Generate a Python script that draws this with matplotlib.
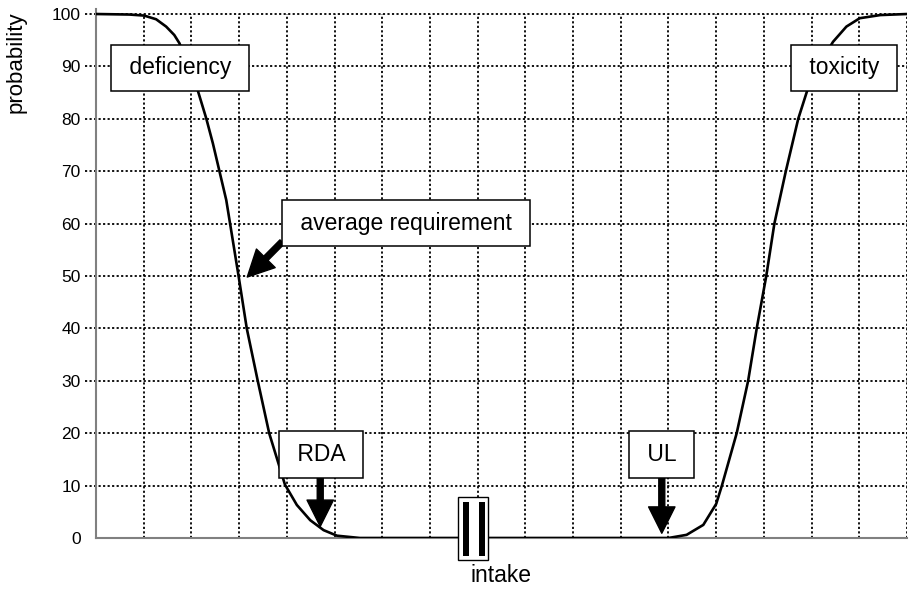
import numpy as np
import matplotlib.pyplot as plt
from matplotlib.patches import Rectangle

plt.rcParams['font.family'] = ['Liberation Sans', 'DejaVu Sans']

# curve (x in grid units, y in %)
intake = [0, 0.70, 1.01, 1.26, 1.47, 1.64, 1.75, 2.13, 2.31, 2.45, 2.59,
          2.73, 2.99, 3.16, 3.39, 3.63, 3.96, 4.21, 4.49, 4.77, 5.05,
          5.53, 12.0, 12.38, 12.73, 13.0, 13.12, 13.43, 13.67, 13.85, 14.05,
          14.22, 14.46, 14.72, 15.0, 15.45, 15.73, 16.01, 16.44, 17]
probability = [100, 99.9, 99.7, 99.0, 97.6, 96.0, 94.4, 85.5, 80.1, 75.3,
               69.9, 64.5, 49.9, 40.0, 30.0, 20.0, 10.2, 6.3, 3.4, 1.5,
               0.44, 0, 0, 0.6, 2.5, 6.5, 10.0, 20.0, 30.0, 40.0, 50.0, 60.0,
               70.0, 80.0, 88.0, 94.7, 97.6, 99.2, 99.8, 100]

yticks = list(range(0, 101, 10))
xgrid = list(range(1, 18))

# labels: (text, box centre x, box centre y)
boxes = [("deficiency", 1.76, 89.7),
         ("toxicity", 15.68, 89.7),
         ("average requirement", 6.5, 60.1),
         ("RDA", 4.72, 16.0),
         ("UL", 11.85, 16.0)]
# arrows: (start, tip)
arrows = [((3.9, 56.5), (3.17, 49.8)),
          ((4.70, 12.5), (4.70, 2.2)),
          ((11.86, 12.5), (11.86, 0.9))]

fig = plt.figure(figsize=(9.11, 5.89), dpi=100)
ax = fig.add_axes([0.1054, 0.0866, 0.8902, 0.8985])
ax.set_xlim(0, 17)
ax.set_ylim(0, 101)

dots = (0, (1.2, 1.3))
ax.vlines(xgrid, 0, 100, colors="black", linestyles=dots, lw=1.3, zorder=1)
ax.hlines(yticks[1:], -0.0135, 1, colors="black", linestyles=dots, lw=1.3,
          transform=ax.get_yaxis_transform(), clip_on=False, zorder=1)

ax.plot(intake, probability, color="black", lw=1.9, zorder=3,
        solid_joinstyle="round")

for sp in ["top", "right"]:
    ax.spines[sp].set_visible(False)
for sp in ["left", "bottom"]:
    ax.spines[sp].set_color("#808080")
    ax.spines[sp].set_linewidth(1.5)

ax.set_xticks([])
ax.set_yticks(yticks)
ax.tick_params(axis="y", length=0, pad=11, labelsize=12.5)

for (x0, y0), (x1, y1) in arrows:
    ax.annotate("", xy=(x1, y1), xytext=(x0, y0),
                arrowprops=dict(facecolor="black", edgecolor="black",
                                width=4.3, headwidth=19, headlength=19,
                                shrink=0),
                zorder=4)

for label, bx, by in boxes:
    ax.text(bx, by, " " + label + " ", ha="center", va="center",
            fontsize=16.5, zorder=5,
            bbox=dict(boxstyle="square,pad=0.52", fc="white", ec="black",
                      lw=1.1))

# axis break symbol
ax.add_patch(Rectangle((7.59, -4.2), 0.63, 12.0, fc="white", ec="black",
                       lw=1.0, clip_on=False, zorder=6))
ax.add_patch(Rectangle((7.69, -3.4), 0.12, 10.3, fc="black", ec="none",
                       clip_on=False, zorder=7))
ax.add_patch(Rectangle((8.03, -3.4), 0.12, 10.3, fc="black", ec="none",
                       clip_on=False, zorder=7))

fig.text(16.5 / 911, 1 - 62 / 589, "probability", rotation=90,
         ha="center", va="center", fontsize=16)
fig.text(501 / 911, 1 - 576 / 589, "intake", ha="center", va="center",
         fontsize=16.5)

fig.savefig("out.png", dpi=100)
